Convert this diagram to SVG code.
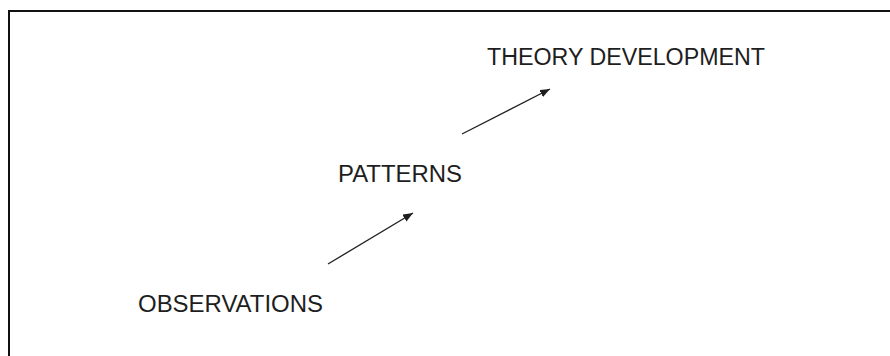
<svg xmlns="http://www.w3.org/2000/svg" width="890" height="356" viewBox="0 0 890 356">
<style>
.lbl{font-family:"Liberation Sans",Arial,sans-serif;font-size:23.5px;fill:#1e1e1e}
.conn{stroke:#1e1e1e;stroke-width:1.3;fill:none;marker-end:url(#ah)}
</style>
<defs>
<marker id="ah" viewBox="0 0 10 8" refX="10" refY="4" markerWidth="10" markerHeight="8" markerUnits="userSpaceOnUse" orient="auto">
<path d="M0,0 L10,4 L0,8 Z" fill="#1e1e1e"/>
</marker>
</defs>
<rect x="0" y="0" width="890" height="356" fill="#fff"/>
<path d="M9,360 L9,11 L895,11" stroke="#111" stroke-width="2" fill="none"/>
<g id="observations"><text class="lbl" x="138" y="312" textLength="185" lengthAdjust="spacingAndGlyphs">OBSERVATIONS</text></g>
<g id="patterns"><text class="lbl" x="338" y="182" textLength="124" lengthAdjust="spacingAndGlyphs">PATTERNS</text></g>
<g id="theory"><text class="lbl" x="487" y="65" textLength="278" lengthAdjust="spacingAndGlyphs">THEORY DEVELOPMENT</text></g>
<g id="connectors">
<line class="conn" x1="328" y1="264" x2="413" y2="213"/>
<line class="conn" x1="462" y1="134" x2="550" y2="89"/>
</g>
</svg>
